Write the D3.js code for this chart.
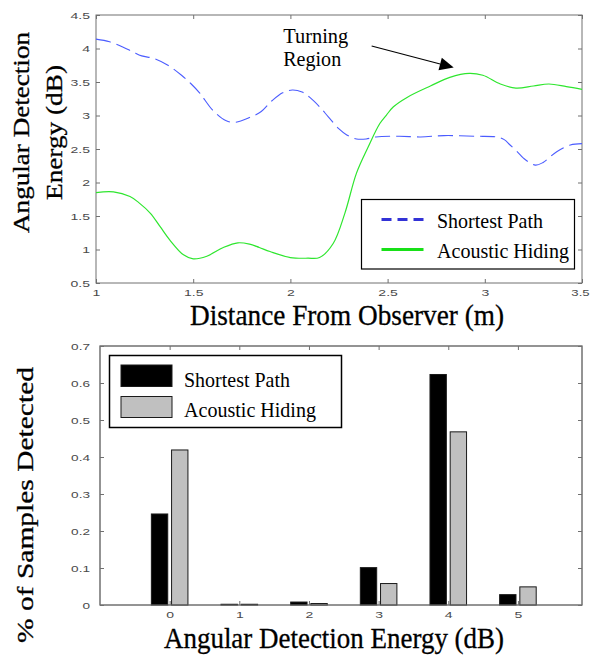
<!DOCTYPE html>
<html>
<head>
<meta charset="utf-8">
<script src="https://cdn.jsdelivr.net/npm/d3@7"></script>
<style>
  html, body { margin: 0; padding: 0; background: #fff; }
  svg { display: block; }
  .serif { font-family: "Liberation Serif", "Times New Roman", "DejaVu Serif", serif; fill: #000; }
  .big { stroke: #000; stroke-width: 0.3px; }
</style>
</head>
<body>
<svg id="chart" width="590" height="656"></svg>
<script>
// ---------- DATA ----------
// Top chart: angular detection energy vs distance
const distShortest = [1.00,1.07,1.14,1.19,1.235,1.30,1.37,1.44,1.49,1.535,1.60,1.67,1.72,1.79,1.85,1.905,1.96,2.01,2.06,2.10,2.15,2.195,2.25,2.29,2.34,2.39,2.44,2.56,2.67,2.79,2.96,3.06,3.10,3.13,3.17,3.20,3.26,3.30,3.37,3.44,3.50];
const energyShortest = [4.14,4.10,4.02,3.95,3.89,3.85,3.75,3.60,3.47,3.33,3.08,2.92,2.90,2.97,3.06,3.22,3.34,3.38,3.35,3.27,3.13,2.98,2.80,2.71,2.65,2.65,2.68,2.69,2.68,2.70,2.69,2.68,2.64,2.56,2.45,2.36,2.26,2.30,2.46,2.56,2.58];
const distHiding = [1.00,1.09,1.175,1.22,1.28,1.33,1.38,1.45,1.50,1.57,1.655,1.73,1.79,1.84,1.895,2.00,2.09,2.15,2.22,2.28,2.34,2.40,2.46,2.495,2.53,2.60,2.72,2.82,2.92,2.99,3.08,3.16,3.25,3.33,3.42,3.50];
const energyHiding = [1.85,1.86,1.79,1.70,1.54,1.34,1.14,0.92,0.86,0.90,1.03,1.10,1.08,1.03,0.97,0.88,0.87,0.88,1.09,1.54,2.14,2.53,2.88,3.01,3.13,3.27,3.44,3.57,3.63,3.60,3.47,3.41,3.44,3.47,3.43,3.39];
const topXTicks = [1, 1.5, 2, 2.5, 3, 3.5];
const topXTickLabels = ["1", "1.5", "2", "2.5", "3", "3.5"];
const topYTicks = [0.5, 1, 1.5, 2, 2.5, 3, 3.5, 4, 4.5];
const topYTickLabels = ["0.5", "1", "1.5", "2", "2.5", "3", "3.5", "4", "4.5"];
const seriesNames = ["Shortest Path", "Acoustic Hiding"];

// Bottom chart: histogram of detection energy
const energyBins = [0, 1, 2, 3, 4, 5];
const fracShortest = [0.246, 0.002, 0.008, 0.101, 0.623, 0.028];
const fracHiding = [0.419, 0.002, 0.004, 0.058, 0.468, 0.049];
const botXTickLabels = ["0", "1", "2", "3", "4", "5"];
const botYTicks = [0, 0.1, 0.2, 0.3, 0.4, 0.5, 0.6, 0.7];
const botYTickLabels = ["0", "0.1", "0.2", "0.3", "0.4", "0.5", "0.6", "0.7"];

// ---------- DRAW ----------
const svg = d3.select("#chart");
const sans = "'Liberation Sans', Arial, Helvetica, sans-serif";
const boxColor = "#707070";
const tickText = "#4a4a4a";

function styleAxis(g, orient) {
  g.select(".domain").remove();
  g.selectAll(".tick line").attr("stroke", boxColor).attr("stroke-width", 1);
  g.selectAll(".tick text")
    .attr("fill", tickText)
    .style("font-family", sans)
    .style("font-size", "8.5px");
  if (orient === "bottom") {
    g.selectAll(".tick text")
      .attr("y", 0).attr("dy", null)
      .attr("dominant-baseline", "middle")
      .attr("transform", "translate(0,11) scale(1.65,1)");
  } else if (orient === "left") {
    g.selectAll(".tick text")
      .attr("x", 0).attr("dy", null)
      .attr("dominant-baseline", "middle")
      .attr("text-anchor", "end")
      .attr("transform", "translate(-6,1) scale(1.65,1)");
  }
}

function label(g, txt, size, len, opts) {
  const t = g.append("text").attr("class", "serif" + (opts.big ? " big" : ""))
    .style("font-size", size + "px")
    .text(txt);
  if (opts.anchor) t.attr("text-anchor", opts.anchor);
  if (len) t.attr("textLength", len).attr("lengthAdjust", "spacingAndGlyphs");
  if (opts.transform) t.attr("transform", opts.transform);
  else t.attr("x", opts.x).attr("y", opts.y);
  return t;
}

// ===== TOP CHART =====
const tx = d3.scaleLinear().domain([1, 3.5]).range([96, 582]);
const ty = d3.scaleLinear().domain([0.5, 4.5]).range([283, 15]);

const topG = svg.append("g");
topG.append("rect")
  .attr("x", tx.range()[0]).attr("y", ty.range()[1])
  .attr("width", tx.range()[1] - tx.range()[0])
  .attr("height", ty.range()[0] - ty.range()[1])
  .attr("fill", "#fff").attr("stroke", boxColor).attr("stroke-width", 1);

topG.append("g").attr("transform", `translate(0,${ty.range()[0]})`)
  .call(d3.axisBottom(tx).tickValues(topXTicks).tickFormat((d, i) => topXTickLabels[i]).tickSizeInner(-4).tickSizeOuter(0))
  .call(g => styleAxis(g, "bottom"))
  .call(g => g.selectAll(".tick text").filter(d => d === 3.5).attr("transform", "translate(-2,11) scale(1.55,1)"));
topG.append("g").attr("transform", `translate(0,${ty.range()[1]})`)
  .call(d3.axisTop(tx).tickValues(topXTicks).tickFormat("").tickSizeInner(-4).tickSizeOuter(0))
  .call(g => styleAxis(g, "top"));
topG.append("g").attr("transform", `translate(${tx.range()[0]},0)`)
  .call(d3.axisLeft(ty).tickValues(topYTicks).tickFormat((d, i) => topYTickLabels[i]).tickSizeInner(-4).tickSizeOuter(0))
  .call(g => styleAxis(g, "left"));
topG.append("g").attr("transform", `translate(${tx.range()[1]},0)`)
  .call(d3.axisRight(ty).tickValues(topYTicks).tickFormat("").tickSizeInner(-4).tickSizeOuter(0))
  .call(g => styleAxis(g, "right"));

const line = d3.line().x(d => tx(d[0])).y(d => ty(d[1])).curve(d3.curveCatmullRom.alpha(0.5));
topG.append("path")
  .datum(distShortest.map((d, i) => [d, energyShortest[i]]))
  .attr("d", line).attr("fill", "none")
  .attr("stroke", "#4b5cff").attr("stroke-width", 1.1)
  .attr("stroke-dasharray", "15,6");
topG.append("path")
  .datum(distHiding.map((d, i) => [d, energyHiding[i]]))
  .attr("d", line).attr("fill", "none")
  .attr("stroke", "#2ee62e").attr("stroke-width", 1.2);

// annotation
label(topG, "Turning", 22, 65, { x: tx(1.963), y: ty(4.087) });
label(topG, "Region", 22, 58, { x: tx(1.963), y: ty(3.74) });
{
  const x1 = tx(2.418), y1 = ty(4.037), x2 = tx(2.84), y2 = ty(3.715);
  const ang = Math.atan2(y2 - y1, x2 - x1);
  const L = 14, Wd = 6.5;
  const ax = x2 - L * Math.cos(ang), ay = y2 - L * Math.sin(ang);
  topG.append("line").attr("x1", x1).attr("y1", y1).attr("x2", ax).attr("y2", ay)
    .attr("stroke", "#000").attr("stroke-width", 1.2);
  topG.append("path")
    .attr("d", `M${x2},${y2} L${ax + Wd * Math.sin(ang)},${ay - Wd * Math.cos(ang)} L${ax - Wd * Math.sin(ang)},${ay + Wd * Math.cos(ang)} Z`)
    .attr("fill", "#000");
}

// legend top
const lgT = topG.append("g");
lgT.append("rect").attr("x", 361.5).attr("y", 199.5).attr("width", 213).attr("height", 69.5)
  .attr("fill", "#fff").attr("stroke", "#000").attr("stroke-width", 1.2);
lgT.append("line").attr("x1", 381.5).attr("x2", 423.5).attr("y1", 219.5).attr("y2", 219.5)
  .attr("stroke", "#3232d6").attr("stroke-width", 3).attr("stroke-dasharray", "10,6");
lgT.append("line").attr("x1", 381.5).attr("x2", 423.5).attr("y1", 249.5).attr("y2", 249.5)
  .attr("stroke", "#18e018").attr("stroke-width", 3);
label(lgT, seriesNames[0], 22, 106, { x: 437, y: 228 });
label(lgT, seriesNames[1], 22, 132, { x: 437, y: 258 });

// axis labels top
label(topG, "Distance From Observer (m)", 30, 314, { anchor: "middle", x: 347, y: 325, big: true });
label(topG, "Angular Detection", 24, 201, { anchor: "middle", transform: "translate(29,132.5) rotate(-90)", big: true });
label(topG, "Energy (dB)", 24, 135, { anchor: "middle", transform: "translate(62,132.5) rotate(-90)", big: true });

// ===== BOTTOM CHART =====
const bxs = d3.scaleLinear().domain([-1, 5.92]).range([100, 582]);
const bys = d3.scaleLinear().domain([0, 0.7]).range([605, 346]);
const botG = svg.append("g");
botG.append("rect")
  .attr("x", bxs.range()[0]).attr("y", bys.range()[1])
  .attr("width", bxs.range()[1] - bxs.range()[0])
  .attr("height", bys.range()[0] - bys.range()[1])
  .attr("fill", "#fff").attr("stroke", boxColor).attr("stroke-width", 1);

const barW = 0.235, barOff = 0.145;
const barData = [];
energyBins.forEach((e, i) => {
  barData.push({ e, v: fracShortest[i], off: -barOff, fill: "#000" });
  barData.push({ e, v: fracHiding[i], off: barOff, fill: "#c0c0c0" });
});
botG.selectAll("rect.bar").data(barData).join("rect")
  .attr("class", "bar")
  .attr("x", d => bxs(d.e + d.off - barW / 2))
  .attr("width", d => bxs(d.e + d.off + barW / 2) - bxs(d.e + d.off - barW / 2))
  .attr("y", d => bys(d.v))
  .attr("height", d => bys(0) - bys(d.v))
  .attr("fill", d => d.fill)
  .attr("stroke", "#1a1a1a").attr("stroke-width", 1);

botG.append("g").attr("transform", `translate(0,${bys.range()[0]})`)
  .call(d3.axisBottom(bxs).tickValues(energyBins).tickFormat((d, i) => botXTickLabels[i]).tickSizeInner(-4).tickSizeOuter(0))
  .call(g => styleAxis(g, "bottom"));
botG.append("g").attr("transform", `translate(0,${bys.range()[1]})`)
  .call(d3.axisTop(bxs).tickValues(energyBins).tickFormat("").tickSizeInner(-4).tickSizeOuter(0))
  .call(g => styleAxis(g, "top"));
botG.append("g").attr("transform", `translate(${bxs.range()[0]},0)`)
  .call(d3.axisLeft(bys).tickValues(botYTicks).tickFormat((d, i) => botYTickLabels[i]).tickSizeInner(-4).tickSizeOuter(0))
  .call(g => styleAxis(g, "left"))
  .call(g => g.selectAll(".tick text").attr("transform", "translate(-10,1) scale(1.6,1)"));
botG.append("g").attr("transform", `translate(${bxs.range()[1]},0)`)
  .call(d3.axisRight(bys).tickValues(botYTicks).tickFormat("").tickSizeInner(-4).tickSizeOuter(0))
  .call(g => styleAxis(g, "right"));
// redraw frame on top of bars
botG.append("rect")
  .attr("x", bxs.range()[0]).attr("y", bys.range()[1])
  .attr("width", bxs.range()[1] - bxs.range()[0])
  .attr("height", bys.range()[0] - bys.range()[1])
  .attr("fill", "none").attr("stroke", boxColor).attr("stroke-width", 1);

// legend bottom
const lgB = botG.append("g");
lgB.append("rect").attr("x", 109.5).attr("y", 355.5).attr("width", 232).attr("height", 72)
  .attr("fill", "#fff").attr("stroke", "#000").attr("stroke-width", 1.5);
lgB.append("rect").attr("x", 121).attr("y", 365).attr("width", 51).attr("height", 21.5)
  .attr("fill", "#000").attr("stroke", "#1a1a1a");
lgB.append("rect").attr("x", 121).attr("y", 396.5).attr("width", 51).attr("height", 21)
  .attr("fill", "#c0c0c0").attr("stroke", "#1a1a1a");
label(lgB, seriesNames[0], 22, 106, { x: 184, y: 386.5 });
label(lgB, seriesNames[1], 22, 132, { x: 184, y: 416.5 });

// axis labels bottom
label(botG, "Angular Detection Energy (dB)", 30, 340, { anchor: "middle", x: 334, y: 648, big: true });
label(botG, "% of Samples Detected", 24, 276, { anchor: "middle", transform: "translate(33,505) rotate(-90)", big: true });
</script>
</body>
</html>
